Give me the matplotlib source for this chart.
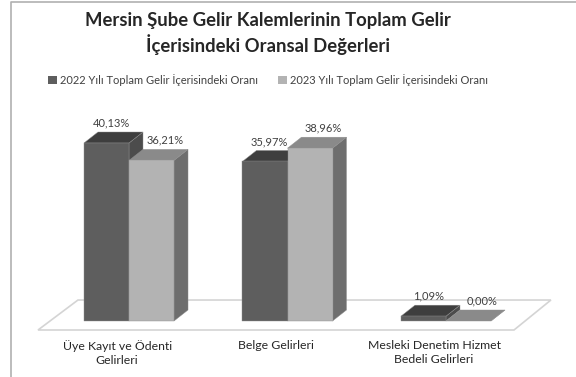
import numpy as np
import matplotlib.pyplot as plt
from matplotlib.patches import Polygon, Patch
from matplotlib.lines import Line2D

plt.rcParams['font.family'] = ['Lato', 'DejaVu Sans']

# data
categories = ['Üye Kayıt ve Ödenti\nGelirleri', 'Belge Gelirleri',
              'Mesleki Denetim Hizmet\nBedeli Gelirleri']
oran_2022 = [40.13, 35.97, 1.09]
oran_2023 = [36.21, 38.96, 0.00]
series_names = ['2022 Yılı Toplam Gelir İçerisindeki Oranı',
                '2023 Yılı Toplam Gelir İçerisindeki Oranı']
title = 'Mersin Şube Gelir Kalemlerinin Toplam Gelir\nİçerisindeki Oransal Değerleri'

# face colours: front, top, side
dark = ('#5e5e5e', '#3e3e3e', '#4c4c4c')
light = ('#b3b3b3', '#8a8a8a', '#6e6e6e')

W, H = 576, 377
fig = plt.figure(figsize=(W / 100, H / 100), dpi=100)

# chart border (only top and left visible)
fig.add_artist(Line2D([11 / W, 11 / W, 1.0], [0.0, 1 - 2 / H, 1 - 2 / H],
                      transform=fig.transFigure, color='#b0b0b0', lw=1.2))

ax = fig.add_axes([49.75 / W, 56 / H, 475.5 / W, 199.6 / H])
ax.set_xlim(-0.5, 2.5)
ax.set_ylim(0, 45)
ax.axis('off')

bw = 0.284      # bar width (category units)
dx = 0.0883     # depth offset x
dy = 2.48       # depth offset y (percent units)


def box(x0, h, cols, z):
    x1 = x0 + bw
    side = [(x1, 0), (x1 + dx, dy), (x1 + dx, h + dy), (x1, h)]
    top = [(x0, h), (x0 + dx, h + dy), (x1 + dx, h + dy), (x1, h)]
    front = [(x0, 0), (x1, 0), (x1, h), (x0, h)]
    for pts, c in ((side, cols[2]), (top, cols[1]), (front, cols[0])):
        if pts is front and h == 0:
            continue
        ax.add_patch(Polygon(pts, closed=True, fc=c, ec='#8f8f8f', lw=0.3,
                             zorder=z, clip_on=False))


def pct(v):
    return f'{v:.2f}%'.replace('.', ',')


# floor
floor = [(-0.574, -2.03), (2.429, -2.03), (2.662, 4.73), (-0.322, 4.73)]
ax.add_patch(Polygon(floor, closed=True, fc='white', ec='#d4d4d4', lw=1.2,
                     zorder=1, clip_on=False))

x = np.arange(len(categories))
for i in x:
    box(i - bw, oran_2022[i], dark, 3)
    box(i, oran_2023[i], light, 4)
    ax.text(i - bw / 2 + 0.03, oran_2022[i] + 4.5, pct(oran_2022[i]),
            ha='center', va='center', fontsize=8, color='#404040', zorder=6)
    ax.text(i + bw / 2 + 0.085, oran_2023[i] + 4.6, pct(oran_2023[i]),
            ha='center', va='center', fontsize=8, color='#404040', zorder=6)
    ax.text(i - 0.075, -4.3, categories[i], ha='center', va='top',
            multialignment='center', fontsize=8.8, color='#262626',
            linespacing=1.3)

fig.text(268 / W, 1 - 33.5 / H, title, ha='center', va='center',
         fontsize=13.3, fontweight='bold', color='#262626', linespacing=1.3)

handles = [Patch(fc=dark[0], ec='none'), Patch(fc=light[0], ec='none')]
fig.legend(handles, series_names, loc='center', bbox_to_anchor=(268 / W, 1 - 80 / H),
           ncol=2, frameon=False, fontsize=8, handlelength=0.8, handleheight=0.8,
           handletextpad=0.3, columnspacing=1.8, labelcolor='#404040')

fig.savefig('out.png', dpi=100)
